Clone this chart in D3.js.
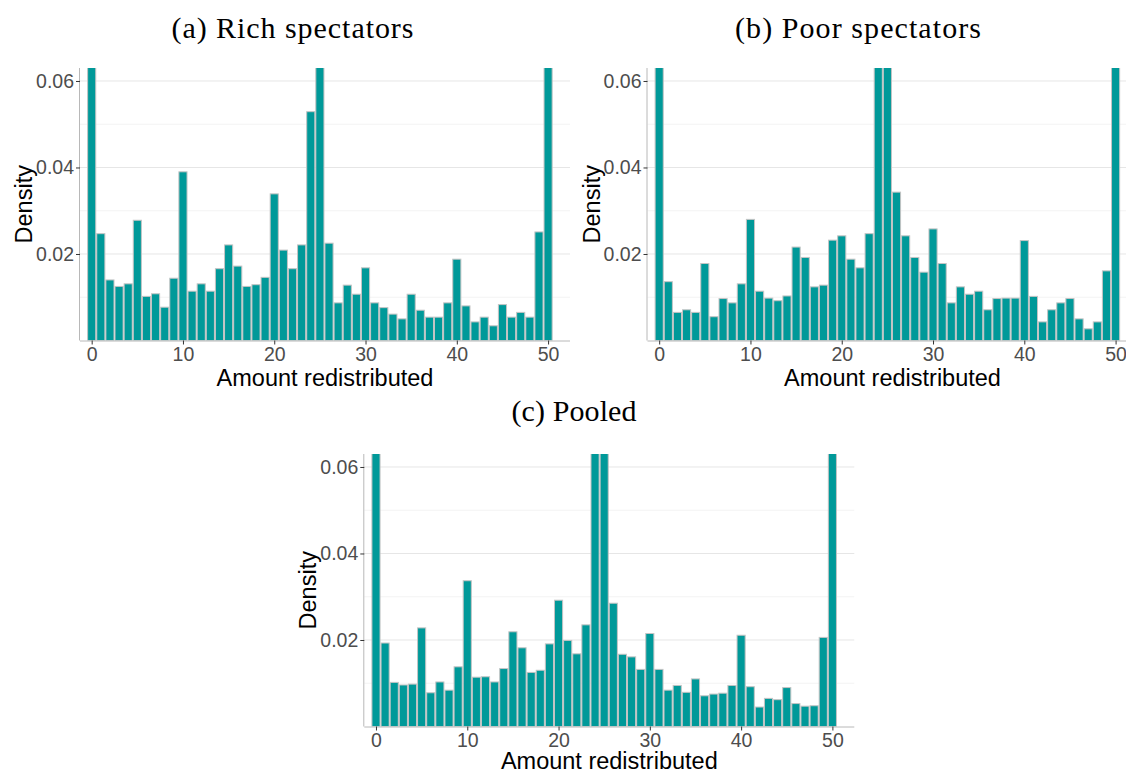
<!DOCTYPE html>
<html>
<head>
<meta charset="utf-8">
<script src="https://cdn.jsdelivr.net/npm/d3@7"></script>
<style>
  html, body { margin: 0; padding: 0; background: #fff; }
  svg { display: block; }
</style>
</head>
<body>
<svg id="chart" width="1126" height="773"></svg>
<script>
// ---- Data (density per integer bin, 0..50) ----
const bins = d3.range(0, 51);

// (a) Rich spectators — bars at 0, 25, 50 exceed the plot's upper limit (clipped)
const richDensity = [
  0.0850, 0.0247, 0.0140, 0.0125, 0.0131, 0.0278, 0.0102, 0.0108, 0.0077, 0.0144,
  0.0390, 0.0114, 0.0131, 0.0114, 0.0166, 0.0221, 0.0172, 0.0125, 0.0129, 0.0146,
  0.0339, 0.0209, 0.0166, 0.0221, 0.0529, 0.0800, 0.0225, 0.0087, 0.0128, 0.0107,
  0.0168, 0.0087, 0.0076, 0.0061, 0.0050, 0.0107, 0.0070, 0.0054, 0.0054, 0.0087,
  0.0188, 0.0080, 0.0043, 0.0054, 0.0034, 0.0083, 0.0054, 0.0065, 0.0054, 0.0251,
  0.0950
];

// (b) Poor spectators — bars at 0, 24, 25, 50 exceed the plot's upper limit (clipped)
const poorDensity = [
  0.0900, 0.0136, 0.0065, 0.0071, 0.0065, 0.0178, 0.0055, 0.0097, 0.0087, 0.0131,
  0.0280, 0.0114, 0.0098, 0.0092, 0.0103, 0.0216, 0.0192, 0.0124, 0.0128, 0.0232,
  0.0242, 0.0188, 0.0168, 0.0247, 0.0700, 0.0750, 0.0343, 0.0242, 0.0192, 0.0158,
  0.0258, 0.0178, 0.0087, 0.0124, 0.0107, 0.0114, 0.0071, 0.0097, 0.0098, 0.0098,
  0.0231, 0.0102, 0.0043, 0.0071, 0.0087, 0.0097, 0.0050, 0.0027, 0.0043, 0.0161,
  0.0900
];

// (c) Pooled — bars at 0, 24, 25, 50 exceed the plot's upper limit (clipped)
const pooledDensity = [
  0.0870, 0.0193, 0.0102, 0.0096, 0.0098, 0.0228, 0.0078, 0.0103, 0.0084, 0.0138,
  0.0337, 0.0114, 0.0115, 0.0103, 0.0134, 0.0219, 0.0182, 0.0125, 0.0130, 0.0191,
  0.0292, 0.0199, 0.0168, 0.0235, 0.0650, 0.0780, 0.0285, 0.0167, 0.0161, 0.0132,
  0.0215, 0.0132, 0.0084, 0.0095, 0.0079, 0.0110, 0.0071, 0.0075, 0.0077, 0.0095,
  0.0211, 0.0092, 0.0045, 0.0065, 0.0062, 0.0090, 0.0053, 0.0047, 0.0048, 0.0206,
  0.0920
];

const xTicks = [0, 10, 20, 30, 40, 50];
const yMajorTicks = [0.02, 0.04, 0.06];
const yMinorTicks = [0.01, 0.03, 0.05];
const panelTitles = ["(a) Rich spectators", "(b) Poor spectators", "(c) Pooled"];
const xLabel = "Amount redistributed";
const yLabel = "Density";

// ---- Layout ----
const svg = d3.select("#chart");
const X_DOMAIN = [-1.28, 52.4];
const Y_DOMAIN = [0, 0.063];
const PW = 490, PH = 272.5;

const panels = [
  { title: panelTitles[0], data: richDensity,   left: 80,    top: 68,  titleX: 292.5, titleY: 37.5, titleLen: 242, xlabDy: 45.5 },
  { title: panelTitles[1], data: poorDensity,   left: 647.5, top: 68,  titleX: 858,   titleY: 37.5, titleLen: 246, xlabDy: 45.5 },
  { title: panelTitles[2], data: pooledDensity, left: 364.3, top: 454, titleX: 574,   titleY: 421,  titleLen: 125, xlabDy: 42.5 }
];

panels.forEach((p, i) => {
  const g = svg.append("g").attr("transform", `translate(${p.left},${p.top})`);
  const x = d3.scaleLinear().domain(X_DOMAIN).range([0, PW]);
  const y = d3.scaleLinear().domain(Y_DOMAIN).range([PH, 0]);

  const clipId = "clip" + i;
  svg.append("defs").append("clipPath").attr("id", clipId)
    .append("rect").attr("x", 0).attr("y", 0).attr("width", PW).attr("height", PH);

  // gridlines
  g.append("g").selectAll("line.minor").data(yMinorTicks).join("line")
    .attr("x1", 0).attr("x2", PW)
    .attr("y1", d => y(d)).attr("y2", d => y(d))
    .attr("stroke", "#f3f3f3").attr("stroke-width", 1);
  g.append("g").selectAll("line.major").data(yMajorTicks).join("line")
    .attr("x1", 0).attr("x2", PW)
    .attr("y1", d => y(d)).attr("y2", d => y(d))
    .attr("stroke", "#e6e6e6").attr("stroke-width", 1);

  // bars
  const bw = x(1) - x(0);
  g.append("g").attr("clip-path", `url(#${clipId})`)
    .selectAll("rect").data(bins).join("rect")
    .attr("x", d => x(d - 0.5) + 0.5)
    .attr("width", bw - 1)
    .attr("y", d => y(p.data[d]))
    .attr("height", d => PH - y(p.data[d]))
    .attr("fill", "#009999")
    .attr("stroke", "#c4c4c4")
    .attr("stroke-width", 1);

  // axes
  const xAxis = g.append("g").attr("transform", `translate(0,${PH})`)
    .call(d3.axisBottom(x).tickValues(xTicks).tickSize(4).tickPadding(3).tickFormat(d3.format("d")));
  xAxis.select(".domain").attr("stroke", "#b8b8b8").attr("d", `M0,0.5H${PW}`);
  xAxis.selectAll(".tick line").attr("stroke", "#333");
  xAxis.selectAll(".tick text").attr("fill", "#4d4d4d")
    .style("font-family", "Liberation Sans, Arial, sans-serif").style("font-size", "19.5px");

  const yAxis = g.append("g")
    .call(d3.axisLeft(y).tickValues(yMajorTicks).tickSize(4).tickPadding(2).tickFormat(d3.format(".2f")));
  yAxis.select(".domain").attr("stroke", "#b8b8b8").attr("d", `M-0.5,0V${PH}`);
  yAxis.selectAll(".tick line").attr("stroke", "#333");
  yAxis.selectAll(".tick text").attr("fill", "#4d4d4d")
    .style("font-family", "Liberation Sans, Arial, sans-serif").style("font-size", "19.5px");

  // axis titles
  g.append("text")
    .attr("x", PW / 2).attr("y", PH + p.xlabDy)
    .attr("text-anchor", "middle")
    .style("font-family", "Liberation Sans, Arial, sans-serif").style("font-size", "23.5px")
    .attr("fill", "#000").text(xLabel);

  g.append("text")
    .attr("transform", `translate(-48,${PH / 2}) rotate(-90)`)
    .attr("text-anchor", "middle")
    .style("font-family", "Liberation Sans, Arial, sans-serif").style("font-size", "23.5px")
    .attr("fill", "#000").text(yLabel);

  // panel title
  svg.append("text")
    .attr("x", p.titleX).attr("y", p.titleY)
    .attr("text-anchor", "middle")
    .attr("textLength", p.titleLen).attr("lengthAdjust", "spacing")
    .style("font-family", "Liberation Serif, 'Times New Roman', serif").style("font-size", "30px")
    .attr("fill", "#000").text(p.title);
});
</script>
</body>
</html>
